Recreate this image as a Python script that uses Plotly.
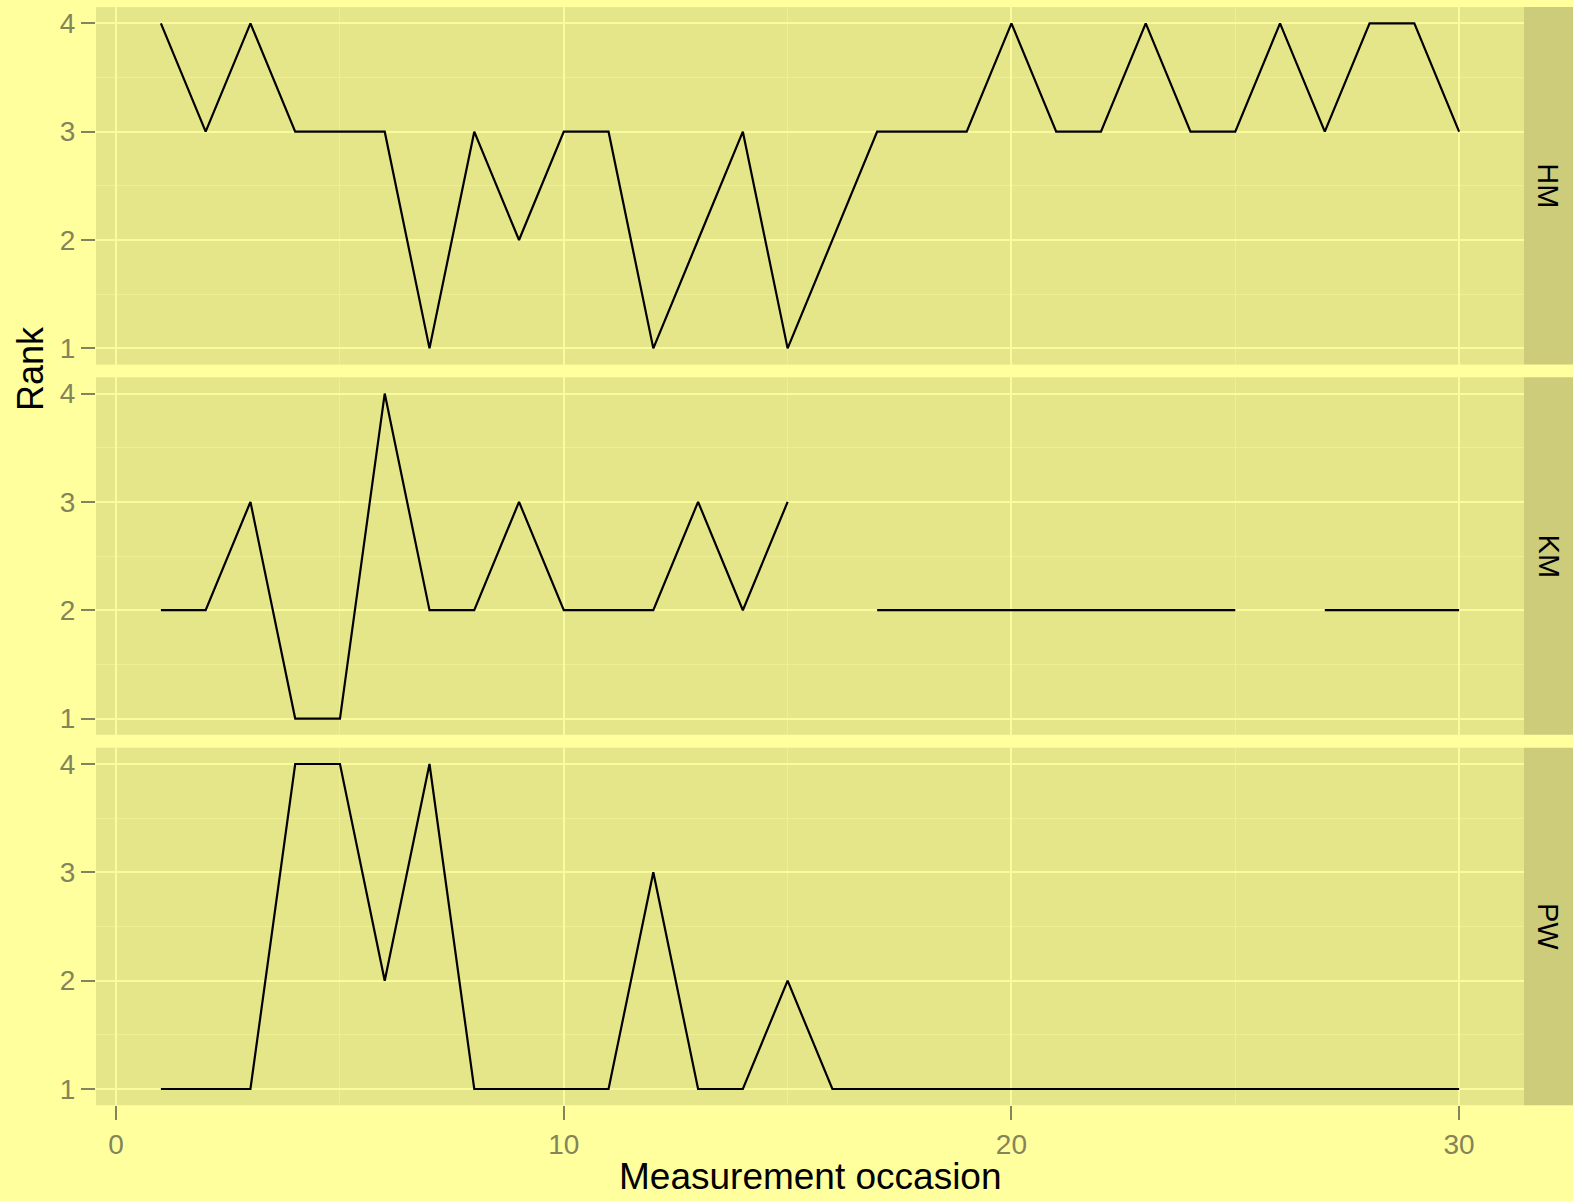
import plotly.graph_objects as go

# ---- data ----
occasion = list(range(1, 31))
rank_HM = [4, 3, 4, 3, 3, 3, 1, 3, 2, 3, 3, 1, 2, 3, 1, 2, 3, 3, 3, 4, 3, 3, 4, 3, 3, 4, 3, 4, 4, 3]
rank_KM = [2, 2, 3, 1, 1, 4, 2, 2, 3, 2, 2, 2, 3, 2, 3, None, 2, 2, 2, 2, 2, 2, 2, 2, 2, None, 2, 2, 2, 2]
rank_PW = [1, 1, 1, 4, 4, 2, 4, 1, 1, 1, 1, 3, 1, 1, 2, 1, 1, 1, 1, 1, 1, 1, 1, 1, 1, 1, 1, 1, 1, 1]
panel_names = ["HM", "KM", "PW"]
x_tick_vals = [0, 10, 20, 30]
y_tick_vals = [1, 2, 3, 4]
x_title = "Measurement occasion"
y_title = "Rank"

series = [rank_HM, rank_KM, rank_PW]

# ---- layout geometry (pixels) ----
W, H = 1573, 1201
x_left, x_right = 96, 1524
panel_tops = [7.1, 377.3, 747.75]
panel_h = 357.5

BG = "#FFFF9E"
PANEL = "#E5E58A"
STRIP = "#CCCC7A"
GRID = "#FAFA9E"
MINOR = "#EEEE94"
TICKC = "#84845A"
FONT = "Liberation Sans, Arial, sans-serif"

fig = go.Figure()

layout = dict(
    width=W, height=H,
    margin=dict(l=0, r=0, t=0, b=0),
    paper_bgcolor=BG, plot_bgcolor=PANEL,
    showlegend=False,
    font=dict(family=FONT, color=TICKC),
)

shapes = []
annotations = []
for i, (name, vals) in enumerate(zip(panel_names, series)):
    n = i + 1
    xa = "x" if n == 1 else f"x{n}"
    ya = "y" if n == 1 else f"y{n}"
    fig.add_trace(go.Scatter(
        x=occasion, y=vals, mode="lines",
        line=dict(color="black", width=2.2),
        connectgaps=False,
        xaxis=xa, yaxis=ya, hoverinfo="skip",
    ))
    top = panel_tops[i]
    y0 = 1 - (top + panel_h) / H
    y1 = 1 - top / H
    last = (n == 3)
    layout["xaxis" if n == 1 else f"xaxis{n}"] = dict(
        domain=[x_left / W, x_right / W],
        anchor=ya,
        range=[-0.45, 31.45],
        tickvals=x_tick_vals,
        ticktext=[str(v) for v in x_tick_vals],
        showticklabels=last,
        ticks="outside" if last else "",
        ticklen=14, tickwidth=2, tickcolor=TICKC,
        tickfont=dict(size=28, color=TICKC, family=FONT),
        showgrid=True, gridcolor=GRID, gridwidth=2,
        minor=dict(tickvals=[5, 15, 25], showgrid=True, gridcolor=MINOR, gridwidth=1, ticks=""),
        zeroline=False, showline=False,
        matches="x" if n != 1 else None,
        automargin=False,
    )
    layout["yaxis" if n == 1 else f"yaxis{n}"] = dict(
        domain=[y0, y1],
        anchor=xa,
        range=[0.85, 4.15],
        tickvals=y_tick_vals,
        ticktext=[str(v) for v in y_tick_vals],
        ticks="outside", ticklen=14, tickwidth=2, tickcolor=TICKC,
        tickfont=dict(size=28, color=TICKC, family=FONT),
        showgrid=True, gridcolor=GRID, gridwidth=2,
        minor=dict(tickvals=[1.5, 2.5, 3.5], showgrid=True, gridcolor=MINOR, gridwidth=1, ticks=""),
        zeroline=False, showline=False,
        automargin=False,
    )
    # facet strip
    shapes.append(dict(type="rect", xref="paper", yref="paper",
                       x0=x_right / W, x1=1, y0=y0, y1=y1,
                       fillcolor=STRIP, line=dict(width=0), layer="below"))
    annotations.append(dict(text=name, xref="paper", yref="paper",
                            x=(x_right + (W - x_right) / 2) / W, y=(y0 + y1) / 2,
                            xanchor="center", yanchor="middle", showarrow=False,
                            textangle=90,
                            font=dict(size=29, color="black", family=FONT)))

annotations.append(dict(text=x_title, xref="paper", yref="paper",
                        x=(x_left + x_right) / 2 / W, y=1 - 1176 / H,
                        xanchor="center", yanchor="middle", showarrow=False,
                        font=dict(size=37, color="black", family=FONT)))
annotations.append(dict(text=y_title, xref="paper", yref="paper",
                        x=30 / W, y=1 - 369 / H,
                        xanchor="center", yanchor="middle", showarrow=False,
                        textangle=-90,
                        font=dict(size=36, color="black", family=FONT)))

layout["shapes"] = shapes
layout["annotations"] = annotations
fig.update_layout(**layout)

fig.write_html("out.html", config={"displayModeBar": False},
               post_script="document.body.style.margin='0';")
